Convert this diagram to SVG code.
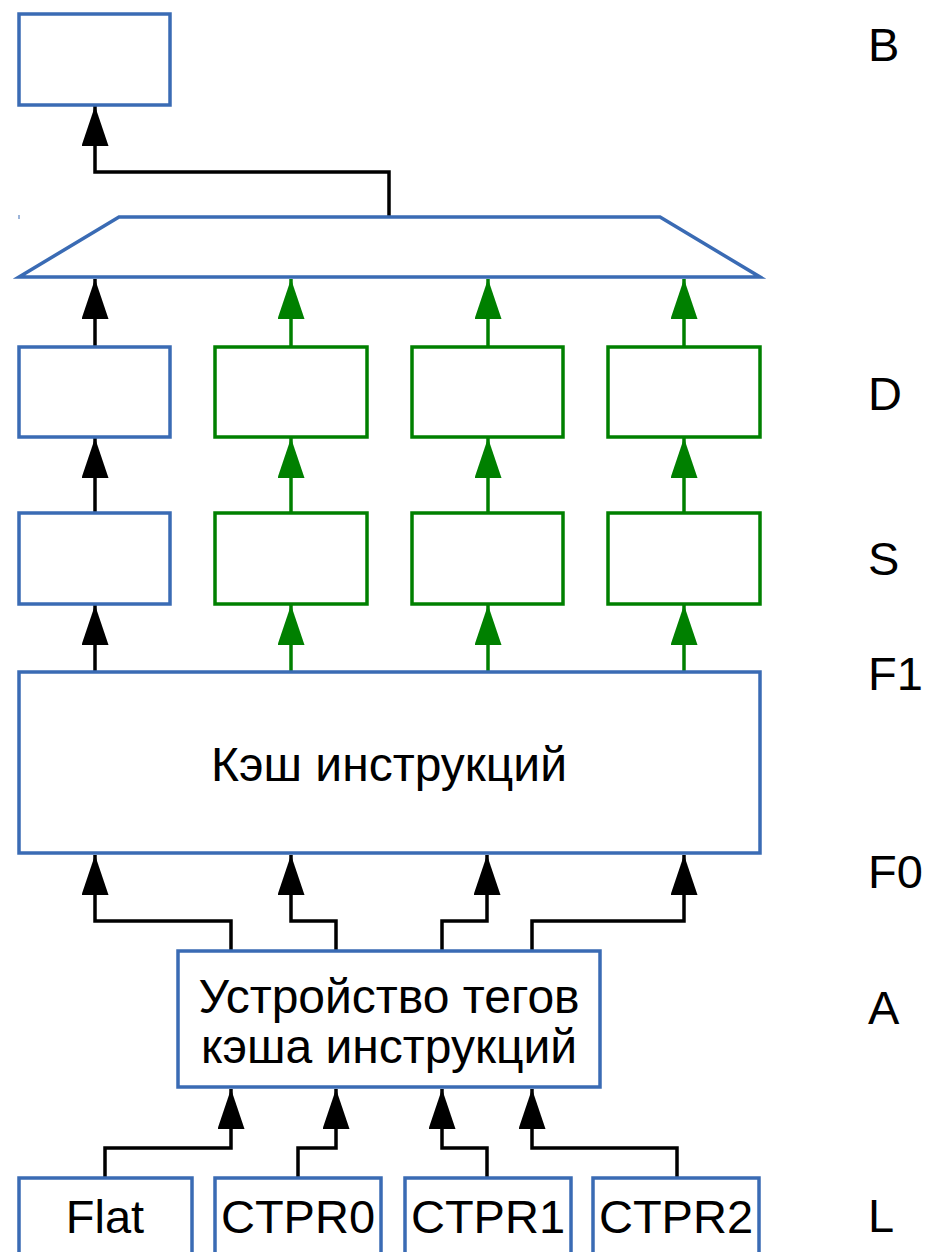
<svg xmlns="http://www.w3.org/2000/svg" width="927" height="1252" viewBox="0 0 927 1252">
<style>
.b{fill:#fff;stroke:#3a6bb4;stroke-width:3.5}
.g{fill:#fff;stroke:#008000;stroke-width:3.5}
.k{fill:none;stroke:#000;stroke-width:3.5}
.kg{fill:none;stroke:#008000;stroke-width:3.5}
text{font-family:"Liberation Sans",Arial,sans-serif;font-size:47px;fill:#000}
.c{text-anchor:middle}
.big{font-size:48px}
</style>
<defs>
<marker id="ak" markerUnits="userSpaceOnUse" markerWidth="41" markerHeight="28" refX="40" refY="13.5" orient="auto"><path d="M0,0 L40,13.5 L0,27 z" fill="#000"/></marker>
<marker id="ag" markerUnits="userSpaceOnUse" markerWidth="41" markerHeight="28" refX="40" refY="13.5" orient="auto"><path d="M0,0 L40,13.5 L0,27 z" fill="#008000"/></marker>
</defs>
<g id="connectors">
<path class="k" d="M389,217 V172 H95 V106" marker-end="url(#ak)"/>
<path class="k" d="M95,347 V279" marker-end="url(#ak)"/>
<path class="kg" d="M291,347 V279" marker-end="url(#ag)"/>
<path class="kg" d="M488,347 V279" marker-end="url(#ag)"/>
<path class="kg" d="M684,347 V279" marker-end="url(#ag)"/>
<path class="k" d="M95,513 V438" marker-end="url(#ak)"/>
<path class="kg" d="M291,513 V438" marker-end="url(#ag)"/>
<path class="kg" d="M488,513 V438" marker-end="url(#ag)"/>
<path class="kg" d="M684,513 V438" marker-end="url(#ag)"/>
<path class="k" d="M95,672 V605" marker-end="url(#ak)"/>
<path class="kg" d="M291,672 V605" marker-end="url(#ag)"/>
<path class="kg" d="M488,672 V605" marker-end="url(#ag)"/>
<path class="kg" d="M684,672 V605" marker-end="url(#ag)"/>
<path class="k" d="M231,951 V921 H95 V855" marker-end="url(#ak)"/>
<path class="k" d="M336,951 V921 H291 V855" marker-end="url(#ak)"/>
<path class="k" d="M442,951 V921 H487 V855" marker-end="url(#ak)"/>
<path class="k" d="M532,951 V921 H684 V855" marker-end="url(#ak)"/>
<path class="k" d="M105,1178 V1148 H231 V1089" marker-end="url(#ak)"/>
<path class="k" d="M298,1178 V1148 H336 V1089" marker-end="url(#ak)"/>
<path class="k" d="M487,1178 V1148 H442 V1089" marker-end="url(#ak)"/>
<path class="k" d="M677,1178 V1148 H532 V1089" marker-end="url(#ak)"/>
</g>
<g id="nodeB"><rect class="b" x="19" y="14" width="151" height="91"/></g>
<g id="mux"><path class="b" d="M119,217 H660 L760,277 H19 Z"/><line x1="19" y1="215" x2="19" y2="219" stroke="#3a6bb4" stroke-width="1"/></g>
<g id="d0"><rect class="b" x="19" y="347" width="151" height="90"/></g>
<g id="d1"><rect class="g" x="215" y="347" width="152" height="90"/></g>
<g id="d2"><rect class="g" x="412" y="347" width="151" height="90"/></g>
<g id="d3"><rect class="g" x="608" y="347" width="152" height="90"/></g>
<g id="s0"><rect class="b" x="19" y="513" width="151" height="91"/></g>
<g id="s1"><rect class="g" x="215" y="513" width="152" height="91"/></g>
<g id="s2"><rect class="g" x="412" y="513" width="151" height="91"/></g>
<g id="s3"><rect class="g" x="608" y="513" width="152" height="91"/></g>
<g id="cache"><rect class="b" x="19" y="672" width="741" height="181"/><text class="c big" x="389" y="781">Кэш инструкций</text></g>
<g id="tags"><rect class="b" x="178" y="951" width="422" height="136"/><text class="c big" x="389" y="1013">Устройство тегов</text><text class="c big" x="389" y="1063">кэша инструкций</text></g>
<g id="flat"><rect class="b" x="19" y="1178" width="173" height="100"/><text class="c" x="105" y="1233">Flat</text></g>
<g id="ctpr0"><rect class="b" x="215" y="1178" width="166" height="100"/><text class="c" x="298" y="1233">CTPR0</text></g>
<g id="ctpr1"><rect class="b" x="405" y="1178" width="166" height="100"/><text class="c" x="488" y="1233">CTPR1</text></g>
<g id="ctpr2"><rect class="b" x="593" y="1178" width="166" height="100"/><text class="c" x="676" y="1233">CTPR2</text></g>
<g id="stages">
<text x="868" y="61">B</text>
<text x="868" y="410">D</text>
<text x="868" y="575">S</text>
<text x="868" y="690">F1</text>
<text x="868" y="888">F0</text>
<text x="868" y="1024">A</text>
<text x="868" y="1232">L</text>
</g>
</svg>
